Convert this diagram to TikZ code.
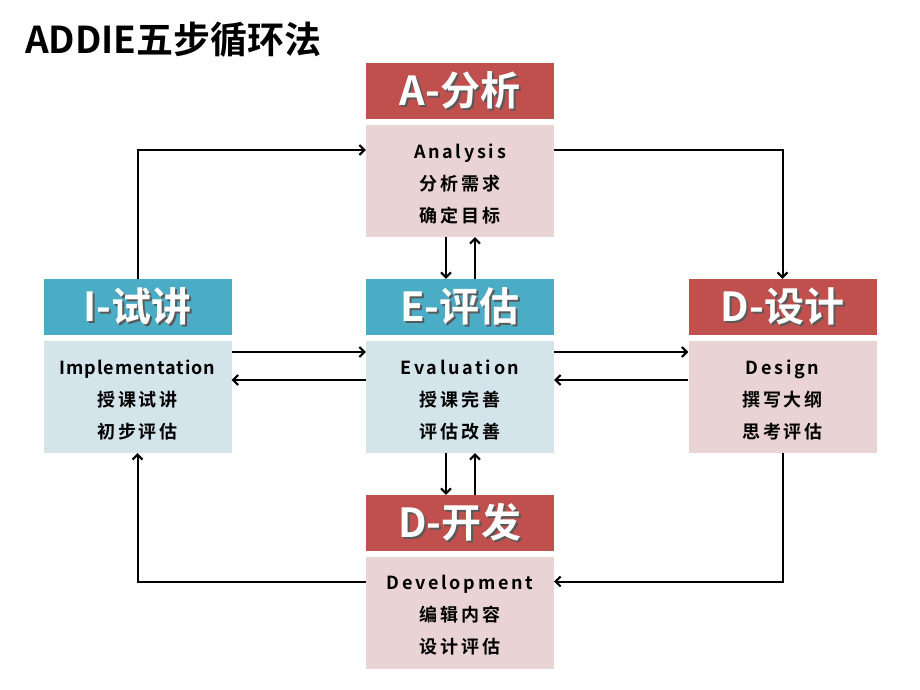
\documentclass[tikz,border=0pt]{standalone}
\usepackage{fontspec}
\setmainfont{Noto Sans CJK SC}[BoldFont={Noto Sans CJK SC Bold}]
\newfontfamily\bodyfont{Noto Sans CJK SC Bold}[LetterSpace=15]
\newfontfamily\implfont{Noto Sans CJK SC Bold}[LetterSpace=5]
\usetikzlibrary{arrows.meta}
\definecolor{hred}{HTML}{C0504D}
\definecolor{bpink}{HTML}{E9D3D4}
\definecolor{hteal}{HTML}{4BACC6}
\definecolor{bblue}{HTML}{D3E4EB}
\newcommand\shtxt[1]{\makebox[0pt][l]{\raisebox{-2pt}{\hspace{2pt}\color{black!65}#1}}#1}
\begin{document}
\begin{tikzpicture}[x=1pt,y=-1pt,
  hdr/.style={minimum width=188pt, minimum height=56pt, inner sep=0pt, text=white, font=\fontsize{40}{42}\selectfont\bfseries},
  redh/.style={hdr, fill=hred},
  tealh/.style={hdr, fill=hteal},
  bodybox/.style={minimum width=188pt, minimum height=112pt, inner sep=0pt},
  bodytext/.style={inner sep=0pt, align=center, font=\bodyfont\fontsize{18}{32}\selectfont},
  pinkb/.style={bodybox, fill=bpink},
  blueb/.style={bodybox, fill=bblue},
  arr/.style={line width=2pt, -{Straight Barb[length=5pt,width=10pt,line width=2pt]}},
  ]
\fill[white] (0,0) rectangle (920,690);
\useasboundingbox (0,0) rectangle (920,690);
\node[anchor=base west, inner sep=0pt, font=\fontsize{37}{40}\selectfont\bfseries] (title) at (25,54) {ADDIE五步循环法};
% analysis
\node[redh] (Ah) at (460,91) {\shtxt{A-分析}};
\node[pinkb] (Ab) at (460,181) {};
\node[bodytext] (Abt) at ([yshift=-3pt]Ab.center) {Analysis\\分析需求\\确定目标};
% evaluation
\node[tealh] (Eh) at (460,307) {\shtxt{E-评估}};
\node[blueb] (Eb) at (460,397) {};
\node[bodytext] (Ebt) at ([yshift=-3pt]Eb.center) {Evaluation\\授课完善\\评估改善};
% implementation
\node[tealh] (Ih) at (137.5,307) {\shtxt{I-试讲}};
\node[blueb] (Ib) at (137.5,397) {};
\node[bodytext] (Ibt) at ([yshift=-3pt]Ib.center) {{\implfont Implementation}\\授课试讲\\初步评估};
% design
\node[redh] (Dh) at (782.5,307) {\shtxt{D-设计}};
\node[pinkb] (Db) at (782.5,397) {};
\node[bodytext] (Dbt) at ([yshift=-3pt]Db.center) {Design\\撰写大纲\\思考评估};
% development
\node[redh] (Vh) at (460,523) {\shtxt{D-开发}};
\node[pinkb] (Vb) at (460,612.5) {};
\node[bodytext] (Vbt) at ([yshift=-3pt]Vb.center) {Development\\编辑内容\\设计评估};
% connectors
\draw[arr] ([xshift=-14pt]Ab.south) -- ([xshift=-14pt]Eh.north);
\draw[arr] ([xshift=15pt]Eh.north) -- ([xshift=15pt]Ab.south);
\draw[arr] ([xshift=-14pt]Eb.south) -- ([xshift=-14pt]Vh.north);
\draw[arr] ([xshift=15pt]Vh.north) -- ([xshift=15pt]Eb.south);
\draw[arr] ([yshift=45pt]Ib.east) -- ([yshift=45pt]Eb.west);
\draw[arr] ([yshift=17pt]Eb.west) -- ([yshift=17pt]Ib.east);
\draw[arr] ([yshift=45pt]Eb.east) -- ([yshift=45pt]Db.west);
\draw[arr] ([yshift=17pt]Db.west) -- ([yshift=17pt]Eb.east);
\draw[arr] (Ih.north) |- ([yshift=31pt]Ab.west);
\draw[arr] ([yshift=31pt]Ab.east) -| (Dh.north);
\draw[arr] (Db.south) |- ([yshift=31pt]Vb.east);
\draw[arr] ([yshift=31pt]Vb.west) -| (Ib.south);
\end{tikzpicture}
\end{document}
